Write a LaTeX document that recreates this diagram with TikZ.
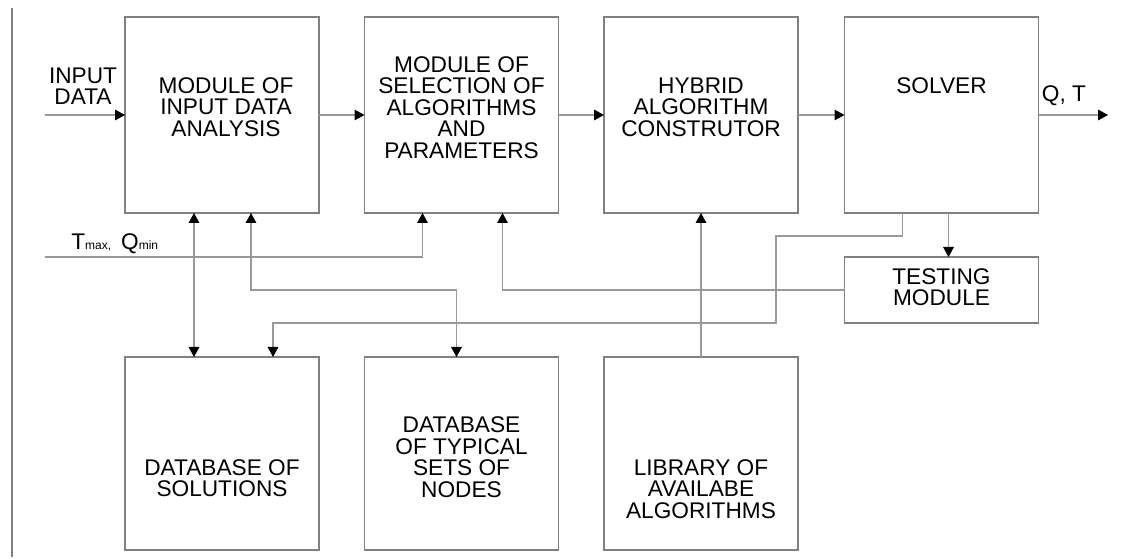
\documentclass[tikz,border=0pt]{standalone}
\usepackage{fontspec}
\setmainfont{Liberation Sans}
\usetikzlibrary{arrows.meta,calc}
\definecolor{boxline}{HTML}{808080}
\definecolor{wire}{HTML}{9A9A9A}
\begin{document}
\begin{tikzpicture}[x=0.75pt,y=-0.75pt,
  font=\fontsize{17}{16.1}\selectfont,
  block/.style={draw=boxline,line width=0.8pt,inner sep=0pt,outer sep=0pt,
    minimum width=194*0.75pt,minimum height=196*0.75pt},
  lowblock/.style={block,minimum height=193*0.75pt},
  txt/.style={align=center,inner sep=0pt},
  tip/.tip={Triangle[color=black,length=7.5pt,width=8pt]},
  conn/.style={draw=wire,line width=0.8pt,-tip},
  both/.style={draw=wire,line width=0.8pt,tip-tip}]
\useasboundingbox (0,0) rectangle (1121,559);

% frame rule on the left
\draw[boxline,line width=0.8pt] (12,8) -- (12,557);

% upper row of blocks
\node[block] (b1) at (222,115) {};
\node[block] (b2) at (461.5,115) {};
\node[block] (b3) at (701,115) {};
\node[block] (b4) at (941.5,115) {};
\node[block,minimum height=66*0.75pt] (bt) at (941.5,290) {};
% lower row of blocks
\node[lowblock] (b5) at (222,453.5) {};
\node[lowblock] (b6) at (461.5,453.5) {};
\node[lowblock] (b7) at (701,453.5) {};

% block captions
\node[txt] (b1t) at (226,107) {MODULE OF\\INPUT DATA\\ANALYSIS};
\node[txt] (b2t) at (461.5,107.5) {MODULE OF\\SELECTION OF\\ALGORITHMS\\AND\\PARAMETERS};
\node[txt] (b3t) at (701,107) {HYBRID\\ALGORITHM\\CONSTRUTOR};
\node[txt] (b4t) at (941.5,86) {SOLVER};
\node[txt] (btt) at (941.5,287) {TESTING\\MODULE};
\node[txt] (b5t) at (222,478) {DATABASE OF\\SOLUTIONS};
\node[txt] (b6t) at (461.5,457) {DATABASE\\OF TYPICAL\\SETS OF\\NODES};
\node[txt] (b7t) at (701,489) {LIBRARY OF\\AVAILABE\\ALGORITHMS};

% free ends and labels
\coordinate (in) at (45,115);
\coordinate (out) at (1108,115);
\coordinate (tm) at (45,257);
\node[txt] (inl) at (83,86) {INPUT\\DATA};
\node[txt] (outl) at (1064,96) {Q, T};
\node[txt,anchor=base west] (tml) at (71,250)
  {T{\fontsize{9}{9}\selectfont max,}\, Q{\fontsize{9}{9}\selectfont min}};

% main data flow
\draw[conn] (in) -- (b1.west);
\draw[conn] (b1.east) -- (b2.west);
\draw[conn] (b2.east) -- (b3.west);
\draw[conn] (b3.east) -- (b4.west);
\draw[conn] (b4.east) -- (out);

% limits to the selection module
\draw[conn] (tm) -| ($(b2.south west)+(58,0)$);

% analysis <-> databases
\coordinate (u1) at ($(b1.south west)+(69,0)$);
\coordinate (u2) at ($(b1.south west)+(126,0)$);
\coordinate (d5a) at ($(b5.north west)+(69,0)$);
\coordinate (d5b) at ($(b5.north west)+(148,0)$);
\coordinate (d6) at ($(b6.north west)+(92,0)$);
\draw[both] (d5a) -- (u1);
\draw[both] (u2) |- (d6 |- bt.west) -- (d6);

% testing feedback to selection
\draw[conn] (bt.west) -| ($(b2.south west)+(138,0)$);

% solver to testing and to the solutions base
\coordinate (s1) at ($(b4.south west)+(58,0)$);
\coordinate (s2) at ($(b4.south west)+(104,0)$);
\coordinate (k) at ($(b3.south west)+(172,23)$);
\draw[conn] (s2) -- (s2 |- bt.north);
\draw[conn] (s1) |- (k) -- (k |- bt.south) -| (d5b);

% library feeds the constructor
\draw[conn] (b7.north) -- (b3.south);
\end{tikzpicture}
\end{document}
